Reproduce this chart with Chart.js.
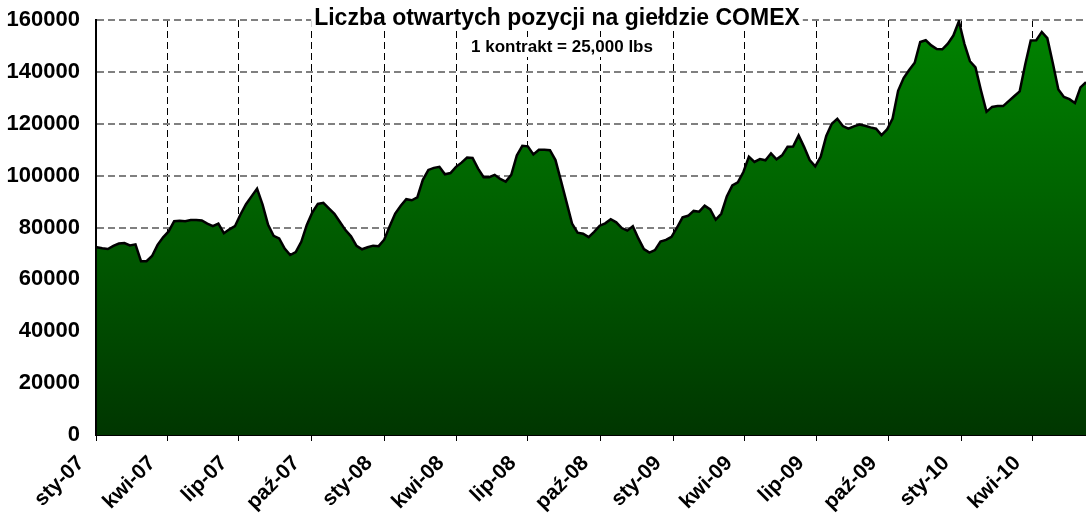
<!DOCTYPE html>
<html>
<head>
<meta charset="utf-8">
<script src="https://cdn.jsdelivr.net/npm/chart.js@4.4.0/dist/chart.umd.min.js"></script>
<style>
  html, body { margin: 0; padding: 0; background: #fff; }
  #wrap { width: 1086px; height: 520px; position: relative; }
</style>
</head>
<body>
<div id="wrap"><canvas id="otwartePozycje"></canvas></div>
<script>
// tygodniowe dane (wtorki od 2 stycznia 2007), liczba kontraktow
var startDate = Date.UTC(2007, 0, 1);
var dniNaOsi = 1254;

var otwartePozycje = [
    72400, 72000, 71700, 72900, 73800, 74000, 73100, 73500, 67000, 67000,
    69000, 73300, 76200, 78500, 82400, 82600, 82400, 82900, 82900, 82700,
    81500, 80500, 81500, 77800, 79300, 80500, 85000, 89000, 92000, 95000,
    88800, 81000, 76800, 75800, 71900, 69400, 70500, 74500, 81000, 85800,
    89100, 89500, 87400, 85300, 82100, 79000, 76600, 72900, 71600, 72400,
    73000, 72800, 75300, 80500, 85400, 88400, 90900, 90500, 91600, 98400,
    102200, 103000, 103400, 100500, 101000, 103400, 105000, 107000, 106800, 102700,
    99400, 99400, 100300, 98700, 97700, 100300, 107800, 111500, 111300, 108200,
    110000, 110000, 109800, 106000, 98000, 89800, 81500, 78000, 77600, 76300,
    78300, 80700, 81600, 83200, 82000, 79800, 78800, 80500, 75800, 71700,
    70300, 71300, 74600, 75200, 76400, 80000, 83900, 84500, 86400, 86100,
    88400, 87000, 83000, 85300, 92000, 96200, 97400, 101400, 107300, 105300,
    106400, 105900, 108600, 106300, 107800, 111100, 111200, 115500, 111000, 106000,
    103600, 107300, 115300, 120000, 121900, 119100, 118100, 119000, 119700, 119200,
    118600, 118100, 115600, 117800, 122000, 132700, 137600, 140700, 143500, 151500,
    152200, 150200, 148800, 148700, 150900, 154000, 159500, 150800, 144100, 141700,
    132800, 124600, 126500, 126800, 126800, 128700, 130600, 132500, 142800, 152100,
    152200, 155400, 153000, 143300, 133200, 130300, 129500, 128000, 134000, 136000
];

var etykietyKwartalow = ['sty-07', 'kwi-07', 'lip-07', 'paź-07', 'sty-08', 'kwi-08', 'lip-08', 'paź-08',
    'sty-09', 'kwi-09', 'lip-09', 'paź-09', 'sty-10', 'kwi-10'
];
var miesiaceKwartalow = [[2007, 0], [2007, 3], [2007, 6], [2007, 9], [2008, 0], [2008, 3], [2008, 6], [2008, 9],
    [2009, 0], [2009, 3], [2009, 6], [2009, 9], [2010, 0], [2010, 3]
];

var tytul = 'Liczba otwartych pozycji na giełdzie COMEX';
var podtytul = '1 kontrakt = 25,000 lbs';

var dzienMs = 24 * 3600 * 1000;
var dniKwartalow = miesiaceKwartalow.map(function(m) {
    return (Date.UTC(m[0], m[1], 1) - startDate) / dzienMs;
});

var punkty = otwartePozycje.map(function(v, i) {
    return { x: 1 + i * 7, y: v };
});

var czcionka = '"Liberation Sans", Arial, sans-serif';

var tytulPlugin = {
    id: 'tytulPlugin',
    afterDraw: function(chart) {
        var ctx = chart.ctx;
        ctx.save();
        ctx.textAlign = 'center';
        ctx.textBaseline = 'middle';

        ctx.font = 'bold 23px ' + czcionka;
        var w1 = ctx.measureText(tytul).width;
        ctx.fillStyle = '#fff';
        ctx.fillRect(557 - w1 / 2 - 3, 6, w1 + 6, 25);
        ctx.fillStyle = '#000';
        ctx.fillText(tytul, 557, 19);

        ctx.font = 'bold 17px ' + czcionka;
        var w2 = ctx.measureText(podtytul).width;
        ctx.fillStyle = '#fff';
        ctx.fillRect(562 - w2 / 2 - 3, 37, w2 + 6, 20);
        ctx.fillStyle = '#000';
        ctx.fillText(podtytul, 562, 47);
        ctx.restore();
    }
};

var ctxPozycje = document.getElementById('otwartePozycje').getContext('2d');

var wykres = new Chart(ctxPozycje, {
    type: 'line',
    data: {
        datasets: [{
            label: 'Otwarte pozycje',
            data: punkty,
            borderColor: '#000',
            borderWidth: 2.5,
            pointRadius: 0,
            tension: 0,
            fill: 'origin',
            backgroundColor: function(context) {
                var area = context.chart.chartArea;
                if (!area) {
                    return '#006400';
                }
                var g = context.chart.ctx.createLinearGradient(0, area.top, 0, area.bottom);
                g.addColorStop(0, '#008400');
                g.addColorStop(1, '#003600');
                return g;
            }
        }]
    },
    options: {
        responsive: true,
        maintainAspectRatio: false,
        animation: false,
        layout: {
            padding: { top: 20, right: 0, bottom: 0, left: 0 }
        },
        scales: {
            x: {
                type: 'linear',
                min: 0,
                max: dniNaOsi,
                afterBuildTicks: function(axis) {
                    axis.ticks = dniKwartalow.map(function(d) {
                        return { value: d };
                    });
                },
                afterFit: function(axis) {
                    axis.height = 85;
                },
                ticks: {
                    autoSkip: false,
                    maxRotation: 45,
                    minRotation: 45,
                    padding: 10,
                    labelOffset: -15,
                    color: '#000',
                    font: { family: czcionka, size: 21, weight: 'bold' },
                    callback: function(value, index) {
                        return etykietyKwartalow[index];
                    }
                },
                grid: {
                    color: '#000',
                    lineWidth: 1,
                    drawTicks: true,
                    tickLength: 6,
                    tickColor: '#000'
                },
                border: {
                    color: '#000',
                    width: 2,
                    dash: [7, 4]
                }
            },
            y: {
                min: 0,
                max: 160000,
                afterFit: function(axis) {
                    axis.width = 96;
                    axis.paddingTop = 0;
                    axis.paddingBottom = 0;
                },
                ticks: {
                    stepSize: 20000,
                    padding: 16,
                    color: '#000',
                    font: { family: czcionka, size: 22, weight: 'bold' },
                    callback: function(value) {
                        return value.toFixed(0);
                    }
                },
                grid: {
                    color: '#808080',
                    lineWidth: 2,
                    drawTicks: false
                },
                border: {
                    color: '#000',
                    width: 2,
                    dash: [7, 4]
                }
            }
        },
        plugins: {
            legend: { display: false },
            tooltip: { enabled: false },
            title: { display: false }
        }
    },
    plugins: [tytulPlugin]
});
</script>
</body>
</html>
